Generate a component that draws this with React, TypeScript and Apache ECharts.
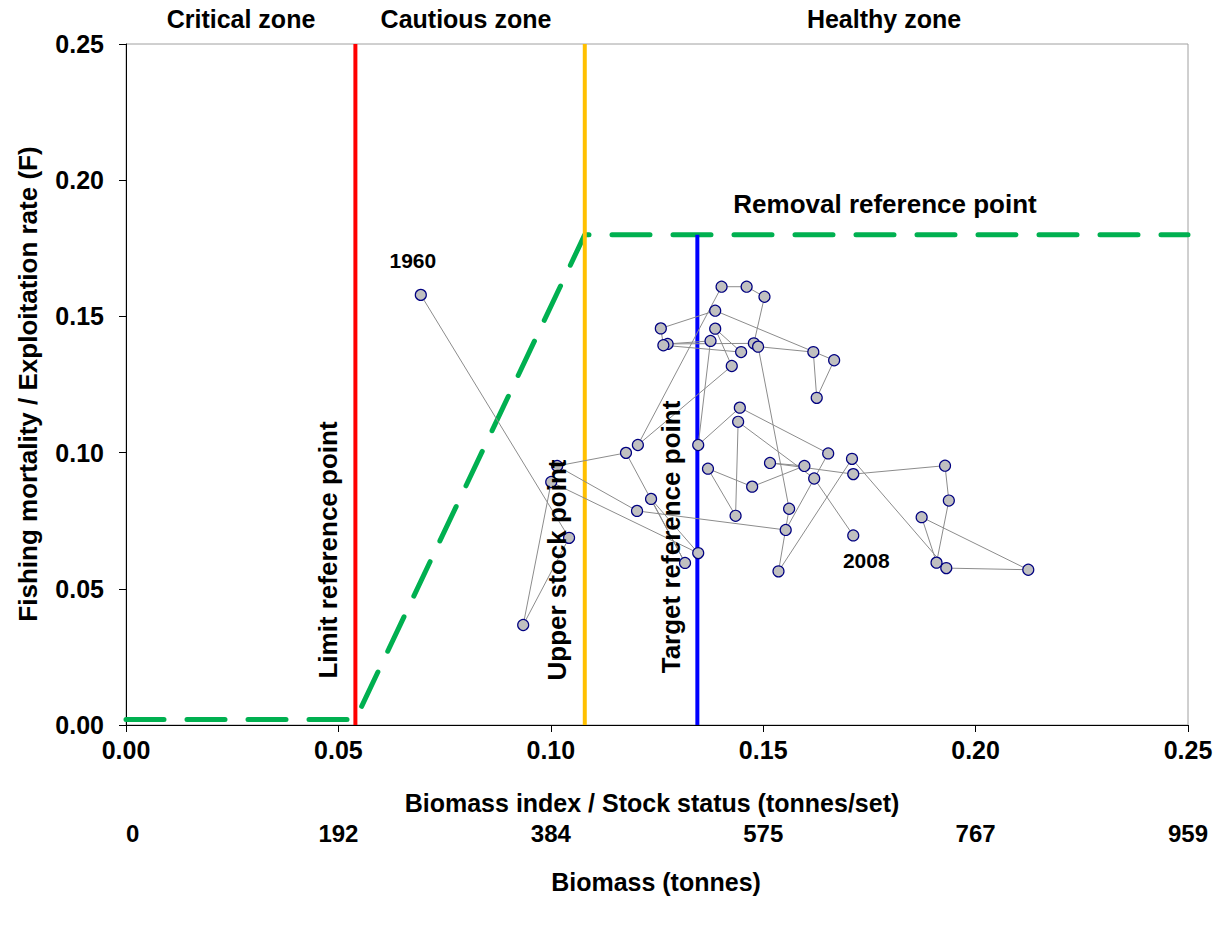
import React, { useEffect, useRef } from "react";
import * as echarts from "echarts";

// ---- data ----
const zoneNames = ["Critical zone", "Cautious zone", "Healthy zone"];
const biomassLabels = ["0", "192", "384", "575", "767", "959"];
const firstYear = 1960;
const lastYear = 2008;

// chronological trajectory 1960 -> 2008 (biomass index, exploitation rate)
const stockIndex = [
  0.0694, 0.1043, 0.0935, 0.1001, 0.1347, 0.1236, 0.1316, 0.1177, 0.1015, 0.1203,
  0.1553, 0.1653, 0.1445, 0.1347, 0.1376, 0.1275, 0.1478, 0.1503, 0.1461, 0.1402,
  0.1205, 0.1426, 0.1387, 0.1448, 0.1265, 0.1259, 0.1387, 0.1667, 0.1626, 0.1618,
  0.1488, 0.1561, 0.1536, 0.1709, 0.1931, 0.2124, 0.1873, 0.1908, 0.1937, 0.1928,
  0.1712, 0.1516, 0.1597, 0.1474, 0.1370, 0.1435, 0.1441, 0.1620, 0.1712,
];
const exploitation = [
  0.1579, 0.0687, 0.0367, 0.0892, 0.0631, 0.0830, 0.0595, 0.0999, 0.0951, 0.0786,
  0.0716, 0.0997, 0.1165, 0.1028, 0.1410, 0.1399, 0.1401, 0.1572, 0.1609, 0.1609,
  0.1028, 0.1318, 0.1455, 0.1369, 0.1394, 0.1456, 0.1521, 0.1339, 0.1201, 0.1369,
  0.1389, 0.0794, 0.0564, 0.0977, 0.0576, 0.0570, 0.0763, 0.0596, 0.0824, 0.0952,
  0.0921, 0.0962, 0.0951, 0.0875, 0.0941, 0.0768, 0.1113, 0.0905, 0.0696,
];

const limitRefPoint = 0.054;
const upperStockPoint = 0.108;
const targetRefPoint = 0.1345;
const removalRate = 0.18;
const criticalF = 0.002;
const xMax = 0.25;
const yMax = 0.25;

const FONT = "'Liberation Sans', Arial, sans-serif";

export default function App() {
  const ref = useRef<HTMLDivElement>(null);

  useEffect(() => {
    if (!ref.current) return;
    const chart = echarts.init(ref.current, undefined, { renderer: "svg" });

    const trajectory = stockIndex.map((x, i) => {
      const item: any = { value: [x, exploitation[i]] };
      if (i === 0) {
        item.label = {
          show: true,
          formatter: String(firstYear),
          position: "top",
          offset: [-8, -13],
        };
      } else if (i === stockIndex.length - 1) {
        item.label = {
          show: true,
          formatter: String(lastYear),
          position: "bottom",
          offset: [13, 3],
        };
      }
      return item;
    });

    const hcr = [
      [0, criticalF],
      [limitRefPoint, criticalF],
      [upperStockPoint, removalRate],
      [xMax, removalRate],
    ];

    const txt = (
      text: string,
      x: number,
      y: number,
      size: number,
      rotation = 0
    ) => ({
      type: "text",
      x,
      y,
      rotation,
      z: 100,
      style: {
        text,
        fill: "#000",
        font: `bold ${size}px ${FONT}`,
        align: "center",
        verticalAlign: "middle",
      },
    });

    const option: any = {
      animation: false,
      backgroundColor: "#fff",
      grid: {
        left: 126,
        top: 44,
        width: 1062,
        height: 681,
        show: true,
        borderColor: "#A0A0A0",
        borderWidth: 1,
        backgroundColor: "transparent",
      },
      xAxis: [
        {
          type: "value",
          min: 0,
          max: xMax,
          interval: 0.05,
          axisLine: { show: true, onZero: false, lineStyle: { color: "#000", width: 1 } },
          axisTick: { show: true, length: 7, lineStyle: { color: "#000" } },
          splitLine: { show: false },
          axisLabel: {
            formatter: (v: number) => v.toFixed(2),
            color: "#000",
            fontFamily: FONT,
            fontWeight: "bold",
            fontSize: 25,
            margin: 12,
          },
        },
        {
          type: "value",
          position: "bottom",
          offset: 88,
          min: 0,
          max: xMax,
          interval: 0.05,
          axisLine: { show: false },
          axisTick: { show: false },
          splitLine: { show: false },
          axisLabel: {
            formatter: (v: number) => biomassLabels[Math.round(v / 0.05)],
            color: "#000",
            fontFamily: FONT,
            fontWeight: "bold",
            fontSize: 24,
            margin: 8,
            alignMinLabel: "left",
          },
        },
      ],
      yAxis: {
        type: "value",
        min: 0,
        max: yMax,
        interval: 0.05,
        axisLine: { show: true, onZero: false, lineStyle: { color: "#000", width: 1 } },
        axisTick: { show: true, length: 7, lineStyle: { color: "#000" } },
        splitLine: { show: false },
        axisLabel: {
          formatter: (v: number) => v.toFixed(2),
          color: "#000",
          fontFamily: FONT,
          fontWeight: "bold",
          fontSize: 25,
          margin: 22,
        },
      },
      series: [
        {
          name: "Harvest control rule",
          type: "line",
          data: hcr,
          symbol: "none",
          z: 2,
          lineStyle: { color: "#00B050", width: 5, type: [38, 23], cap: "round" },
        },
        {
          name: "Limit reference point",
          type: "line",
          data: [
            [limitRefPoint, 0],
            [limitRefPoint, yMax],
          ],
          symbol: "none",
          z: 3,
          lineStyle: { color: "#FF0000", width: 4 },
        },
        {
          name: "Upper stock point",
          type: "line",
          data: [
            [upperStockPoint, 0],
            [upperStockPoint, yMax],
          ],
          symbol: "none",
          z: 3,
          lineStyle: { color: "#FFC000", width: 4 },
        },
        {
          name: "Target reference point",
          type: "line",
          data: [
            [targetRefPoint, 0],
            [targetRefPoint, removalRate],
          ],
          symbol: "none",
          z: 3,
          lineStyle: { color: "#0000FF", width: 4 },
        },
        {
          name: "Stock trajectory",
          type: "line",
          data: trajectory,
          z: 5,
          symbol: "circle",
          symbolSize: 11,
          lineStyle: { color: "#8C8C8C", width: 1 },
          itemStyle: { color: "#C0C0C0", borderColor: "#000080", borderWidth: 1.2 },
          label: {
            color: "#000",
            fontFamily: FONT,
            fontWeight: "bold",
            fontSize: 21,
          },
        },
      ],
      graphic: [
        txt(zoneNames[0], 241, 19, 25),
        txt(zoneNames[1], 466, 19, 25),
        txt(zoneNames[2], 884, 19, 25),
        txt("Removal reference point", 885, 204, 26),
        txt("Limit reference point", 328, 550, 26, Math.PI / 2),
        txt("Upper stock point", 557, 570, 26, Math.PI / 2),
        txt("Target reference point", 671, 537, 26, Math.PI / 2),
        txt("Fishing mortality / Exploitation rate (F)", 28, 384, 26, Math.PI / 2),
        txt("Biomass index / Stock status (tonnes/set)", 652, 803, 25),
        txt("Biomass (tonnes)", 656, 882, 25),
      ],
    };

    chart.setOption(option);
    return () => chart.dispose();
  }, []);

  return (
    <div
      ref={ref}
      style={{ position: "absolute", left: 0, top: 0, width: 1224, height: 928 }}
    />
  );
}
